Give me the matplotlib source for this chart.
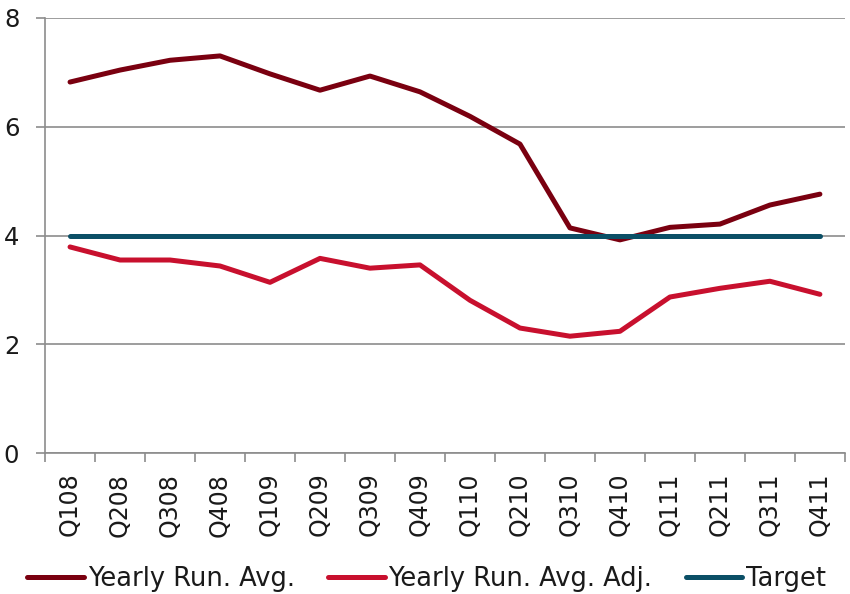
import matplotlib
matplotlib.use("Agg")
import matplotlib.pyplot as plt
import numpy as np

# Данные
quarters = ['Q108', 'Q208', 'Q308', 'Q408', 'Q109', 'Q209', 'Q309', 'Q409',
            'Q110', 'Q210', 'Q310', 'Q410', 'Q111', 'Q211', 'Q311', 'Q411']
yearly_avg = [6.82, 7.04, 7.22, 7.30, 6.97, 6.67, 6.93, 6.64,
              6.19, 5.68, 4.14, 3.92, 4.15, 4.21, 4.56, 4.76]
yearly_avg_adj = [3.79, 3.55, 3.55, 3.44, 3.14, 3.58, 3.40, 3.46,
                  2.81, 2.30, 2.15, 2.24, 2.87, 3.03, 3.16, 2.92]
target = [4.0] * 16

COLORS = {'avg': '#7A0010', 'adj': '#C8102E', 'target': '#0B4F66',
          'grid': '#8C8C8C', 'text': '#1A1A1A'}

plt.rcParams['font.family'] = ['DejaVu Sans']
fig = plt.figure(figsize=(8.5, 5.94), dpi=100)
ax = fig.add_axes([0.053, 0.237, 0.941, 0.733])

x = np.arange(len(quarters))
ax.plot(x, yearly_avg, color=COLORS['avg'], lw=3.6, label='Yearly Run. Avg.', solid_capstyle='round')
ax.plot(x, yearly_avg_adj, color=COLORS['adj'], lw=3.6, label='Yearly Run. Avg. Adj.', solid_capstyle='round')
ax.plot(x, target, color=COLORS['target'], lw=3.6, label='Target', solid_capstyle='round')

ax.set_xlim(-0.5, len(quarters) - 0.5)
ax.set_ylim(0, 8)
ax.set_yticks([0, 2, 4, 6, 8])
ax.yaxis.grid(True, color=COLORS['grid'], lw=1.2)
ax.set_axisbelow(True)

# Подписи по центру категорий, засечки между ними
ax.set_xticks(x)
ax.set_xticklabels(quarters, rotation=90, fontsize=17, color=COLORS['text'])
ax.tick_params(axis='x', length=0, pad=14)
ax.set_xticks(np.arange(-0.5, len(quarters)), minor=True)
ax.tick_params(axis='x', which='minor', length=6.5, color=COLORS['grid'], width=1.2)
ax.tick_params(axis='y', length=6.5, color=COLORS['grid'], width=1.2, labelsize=17.5,
               labelcolor=COLORS['text'], pad=12)

for s in ['top', 'right']:
    ax.spines[s].set_visible(False)
for s in ['left', 'bottom']:
    ax.spines[s].set_color(COLORS['grid'])
    ax.spines[s].set_linewidth(1.2)

leg = fig.legend(loc='lower center', bbox_to_anchor=(0.502, -0.036), ncol=3, frameon=False,
                 fontsize=18.5, handlelength=2.2, handletextpad=0.15, columnspacing=1.3)
for t in leg.get_texts():
    t.set_color(COLORS['text'])

plt.savefig('out.png', dpi=100)
plt.close()
